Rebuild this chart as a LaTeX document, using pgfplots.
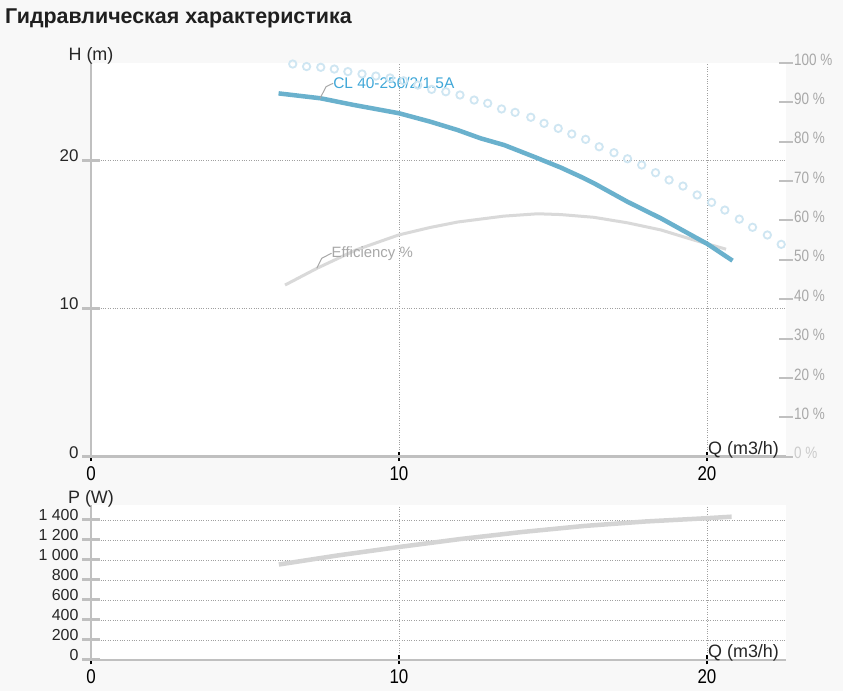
\documentclass[border=0pt]{standalone}
\usepackage{pgfplots}
\pgfplotsset{compat=1.18}
\usepackage{fontspec}
\setmainfont{Liberation Sans}
\newfontfamily\narrowfont[FakeStretch=0.85]{Liberation Sans}
\newfontfamily\pctfont[FakeStretch=0.82]{Liberation Sans}
\definecolor{bg}{HTML}{F8F8F8}
\definecolor{axisgray}{HTML}{C0C0C0}
\definecolor{hblue}{HTML}{6AB1CD}
\definecolor{lblblue}{HTML}{3FA7D8}
\definecolor{circ}{HTML}{CFE6F2}
\definecolor{effgray}{HTML}{D9D9D9}
\definecolor{pgray}{HTML}{D4D4D4}
\definecolor{txtgray}{HTML}{A8A8A8}
\definecolor{gridc}{HTML}{A0A0A0}
\pgfplotsset{
  pumpaxis/.style={
    scale only axis, width=694.5bp,
    xmin=0, xmax=22.55,
    axis background/.style={fill=white},
    axis x line*=bottom, axis y line*=left,
    x axis line style={draw=axisgray, line width=2.5bp},
    y axis line style={draw=axisgray, line width=2bp},
    xtick={0,10,20}, xticklabels={0,10,20},
    tick align=center,
    major tick length=18bp,
    xtick style={black, line width=1.5bp, /pgfplots/major tick length=9bp},
    ytick style={axisgray, line width=3bp},
    xmajorgrids, ymajorgrids,
    major grid style={gridc, dotted, line width=0.8bp},
    xticklabel style={font=\narrowfont\fontsize{20}{20}\selectfont, text=black, yshift=3bp},
    yticklabel style={text=black!85, yshift=4.5bp},
    clip=false,
  }
}
\begin{document}
\begin{tikzpicture}[x=1bp,y=1bp]
\fill[bg] (0,0) rectangle (843,691);
\path[use as bounding box] (0,0) rectangle (843,691);
\node[anchor=base west, inner sep=0, font=\fontsize{21.5}{24}\selectfont\bfseries, text=black!88] at (5,667.7) {Гидравлическая характеристика};

% ---------- H / efficiency chart ----------
\begin{axis}[pumpaxis,
  at={(91bp,234.3bp)}, anchor=south west, height=393.7bp,
  ymin=0, ymax=26.55,
  ytick={0,10,20}, yticklabels={0,10,20},
  yticklabel style={font=\fontsize{17}{17}\selectfont},
]
% dotted (circle) curve
\addplot[circ, only marks, mark=o, mark size=3.7bp, mark options={line width=1.8bp}] coordinates {
(6.55,26.48) (7.00,26.31) (7.46,26.26) (7.90,26.14) (8.34,25.97) (8.80,25.81)
(9.25,25.67) (9.71,25.54) (10.15,25.35) (10.61,25.06) (11.06,24.77) (11.52,24.61)
(11.98,24.39) (12.44,24.05) (12.88,23.83) (13.33,23.45) (13.77,23.22) (14.28,22.89)
(14.71,22.48) (15.17,22.14) (15.61,21.76) (16.06,21.40) (16.50,20.90) (16.98,20.50)
(17.42,20.09) (17.88,19.67) (18.33,19.15) (18.77,18.66) (19.22,18.25) (19.68,17.65)
(20.15,17.15) (20.58,16.63) (21.05,16.02) (21.48,15.47) (21.96,14.95) (22.41,14.32)
};
% efficiency (%), drawn on the H axis scaled to 0..100 %
\addplot[effgray, line width=3bp, y filter/.expression={y*26.55/100}] coordinates {
(6.3,43.6) (7.35,47.9) (8.6,52.5) (9.98,56.3) (11.0,58.2) (11.9,59.6) (13.4,61.1)
(14.5,61.7) (15.25,61.5) (16.33,60.8) (17.42,59.4) (18.5,57.6) (19.59,55.0) (20.62,52.7)
};
% H curve
\addplot[hblue, line width=4.5bp, line join=round] coordinates {
(6.09,24.50) (7.45,24.17) (8.53,23.72) (10.0,23.16) (11.02,22.59) (11.9,22.03)
(12.65,21.47) (13.41,21.02) (14.38,20.23) (15.25,19.50) (15.9,18.88) (16.33,18.44)
(17.42,17.19) (18.5,16.08) (19.59,14.83) (20.02,14.34) (20.83,13.22)
};
\draw[txtgray, line width=1bp] (axis cs:7.44,24.17) -- (axis cs:7.63,24.95) -- (axis cs:7.86,25.18);
\node[anchor=west, inner sep=0, text=lblblue, font=\fontsize{15.5}{15.5}\selectfont] at (axis cs:7.86,25.18) {CL 40-250/2/1.5A};
\draw[txtgray, line width=1bp] (axis cs:7.33,12.70) -- (axis cs:7.49,13.38) -- (axis cs:7.81,13.72);
\node[anchor=west, inner sep=0, text=txtgray, font=\fontsize{15}{15}\selectfont] at (axis cs:7.81,13.72) {Efficiency \%};
\node[anchor=base, inner sep=0, font=\fontsize{18}{18}\selectfont, text=black!85] at ([yshift=2bp]rel axis cs:0,1) {H (m)};
\node[anchor=base west, inner sep=0, font=\fontsize{18}{18}\selectfont, text=black!85] at ([xshift=1bp,yshift=2bp]axis cs:20,0) {Q (m3/h)};
\end{axis}

% right percent axis
\begin{axis}[
  scale only axis, width=694.5bp, height=393.7bp,
  at={(91bp,234.3bp)}, anchor=south west,
  xmin=0, xmax=22.55, ymin=0, ymax=100,
  axis x line=none, axis y line*=right,
  y axis line style={draw=none},
  ytick={0,10,...,100},
  yticklabels={{\color{txtgray!60}0 \%},10 \%,20 \%,30 \%,40 \%,50 \%,60 \%,70 \%,80 \%,90 \%,100 \%},
  tick align=center, major tick length=14bp,
  ytick style={axisgray, line width=2bp},
  yticklabel style={font=\pctfont\fontsize{16.5}{16.5}\selectfont, text=txtgray, anchor=west, xshift=-2bp, yshift=3.5bp},
  clip=false,
]
\addplot[draw=none] coordinates {(0,0)};
\end{axis}

% ---------- power chart ----------
\begin{axis}[pumpaxis,
  at={(91bp,31bp)}, anchor=south west, height=155bp,
  ymin=0, ymax=1550,
  ytick={0,200,...,1400}, yticklabels={0,200,400,600,800,1 000,1 200,1 400},
  yticklabel style={font=\fontsize{16}{16}\selectfont},
]
\addplot[pgray, line width=4.5bp] coordinates {
(6.1,955) (8.0,1045) (10.0,1130) (12.0,1210) (14.0,1280) (16.0,1340) (18.0,1385) (20.0,1418) (20.8,1433)
};
\node[anchor=base, inner sep=0, font=\fontsize{18}{18}\selectfont, text=black!85] at ([yshift=1bp]rel axis cs:0,1) {P (W)};
\node[anchor=base west, inner sep=0, font=\fontsize{18}{18}\selectfont, text=black!85] at ([xshift=1bp,yshift=2bp]axis cs:20,0) {Q (m3/h)};
\end{axis}
\end{tikzpicture}
\end{document}
